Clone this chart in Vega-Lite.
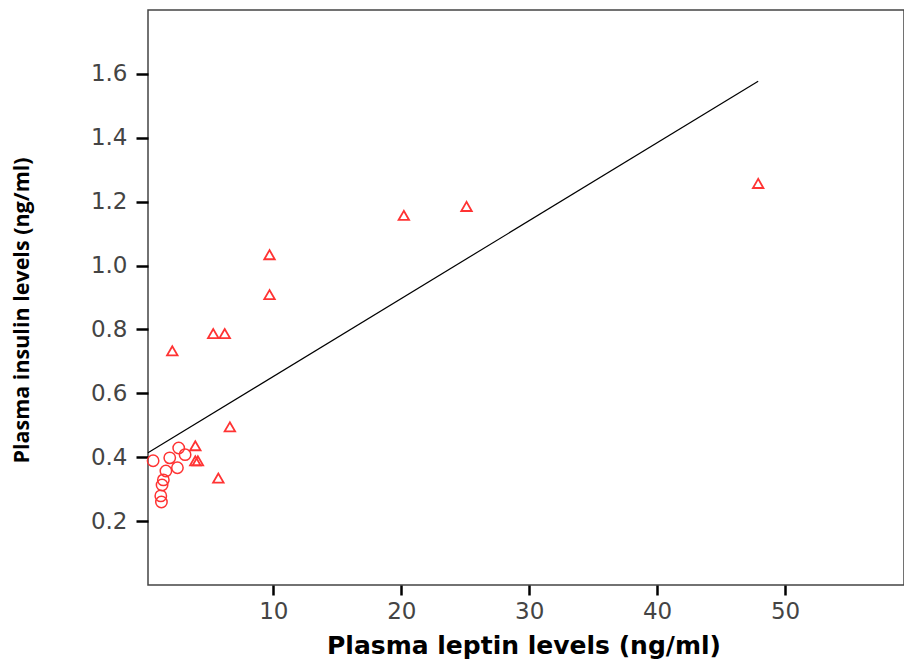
{
  "$schema": "https://vega.github.io/schema/vega-lite/v6.json",
  "autosize": {"type": "none"},
  "padding": {"left": 148, "top": 10, "right": 0, "bottom": 74},
  "width": 756,
  "height": 575,
  "background": "white",
  "config": {
    "view": {"stroke": "#444", "strokeWidth": 1.5},
    "font": "DejaVu Sans"
  },
  "datasets": {
    "points": [
      {"leptin": 2.1, "insulin": 0.733, "group": "tri"},
      {"leptin": 5.3, "insulin": 0.787, "group": "tri"},
      {"leptin": 6.2, "insulin": 0.787, "group": "tri"},
      {"leptin": 9.7, "insulin": 1.034, "group": "tri"},
      {"leptin": 9.7, "insulin": 0.909, "group": "tri"},
      {"leptin": 20.2, "insulin": 1.157, "group": "tri"},
      {"leptin": 25.1, "insulin": 1.185, "group": "tri"},
      {"leptin": 47.9, "insulin": 1.257, "group": "tri"},
      {"leptin": 6.6, "insulin": 0.495, "group": "tri"},
      {"leptin": 5.7, "insulin": 0.335, "group": "tri"},
      {"leptin": 3.9, "insulin": 0.436, "group": "tri"},
      {"leptin": 3.9, "insulin": 0.389, "group": "tri"},
      {"leptin": 4.1, "insulin": 0.389, "group": "tri"},
      {"leptin": 0.6, "insulin": 0.389, "group": "circ"},
      {"leptin": 1.9, "insulin": 0.398, "group": "circ"},
      {"leptin": 2.6, "insulin": 0.429, "group": "circ"},
      {"leptin": 3.1, "insulin": 0.408, "group": "circ"},
      {"leptin": 2.5, "insulin": 0.367, "group": "circ"},
      {"leptin": 1.6, "insulin": 0.357, "group": "circ"},
      {"leptin": 1.4, "insulin": 0.329, "group": "circ"},
      {"leptin": 1.3, "insulin": 0.313, "group": "circ"},
      {"leptin": 1.2, "insulin": 0.279, "group": "circ"},
      {"leptin": 1.25, "insulin": 0.26, "group": "circ"}
    ],
    "fit": [
      {"leptin": 0.2, "insulin": 0.414},
      {"leptin": 47.9, "insulin": 1.577}
    ]
  },
  "encoding": {
    "x": {
      "field": "leptin", "type": "quantitative",
      "scale": {"domain": [0.2, 59.3], "nice": false, "zero": false},
      "axis": {
        "title": "Plasma leptin levels (ng/ml)",
        "values": [10, 20, 30, 40, 50],
        "grid": false, "domain": false,
        "tickColor": "#000", "tickWidth": 2.5, "tickSize": 10,
        "labelFont": "DejaVu Sans", "labelFontSize": 23, "labelColor": "#444", "labelPadding": 5,
        "titleFont": "DejaVu Sans", "titleFontSize": 25, "titleFontWeight": "bold", "titleColor": "#000",
        "titleX": 375.5, "titleY": 68, "titleBaseline": "alphabetic", "titleAlign": "center"
      }
    },
    "y": {
      "field": "insulin", "type": "quantitative",
      "scale": {"domain": [0, 1.8], "nice": false},
      "axis": {
        "title": "Plasma insulin levels (ng/ml)",
        "values": [0.2, 0.4, 0.6, 0.8, 1.0, 1.2, 1.4, 1.6],
        "format": ".1f",
        "grid": false, "domain": false,
        "tickColor": "#000", "tickWidth": 2.5, "tickSize": 12,
        "labelFont": "DejaVu Sans", "labelFontSize": 23, "labelColor": "#444", "labelPadding": 9,
        "titleFont": "Open Sans", "titleFontSize": 21.5, "titleFontWeight": "bold", "titleColor": "#000",
        "titleX": -120, "titleY": 300, "titleBaseline": "alphabetic", "titleAlign": "center", "titleAngle": -90
      }
    }
  },
  "layer": [
    {
      "data": {"name": "fit"},
      "mark": {"type": "line", "color": "#000", "strokeWidth": 1.2},
      "encoding": {}
    },
    {
      "data": {"name": "points"},
      "transform": [{"filter": "datum.group === 'tri'"}],
      "mark": {"type": "point", "shape": "triangle-up", "filled": false, "color": "#ff3333", "size": 110, "strokeWidth": 1.8, "opacity": 1}
    },
    {
      "data": {"name": "points"},
      "transform": [{"filter": "datum.group === 'circ'"}],
      "mark": {"type": "point", "shape": "circle", "filled": false, "color": "#ff3333", "size": 130, "strokeWidth": 1.5, "opacity": 1}
    }
  ]
}
